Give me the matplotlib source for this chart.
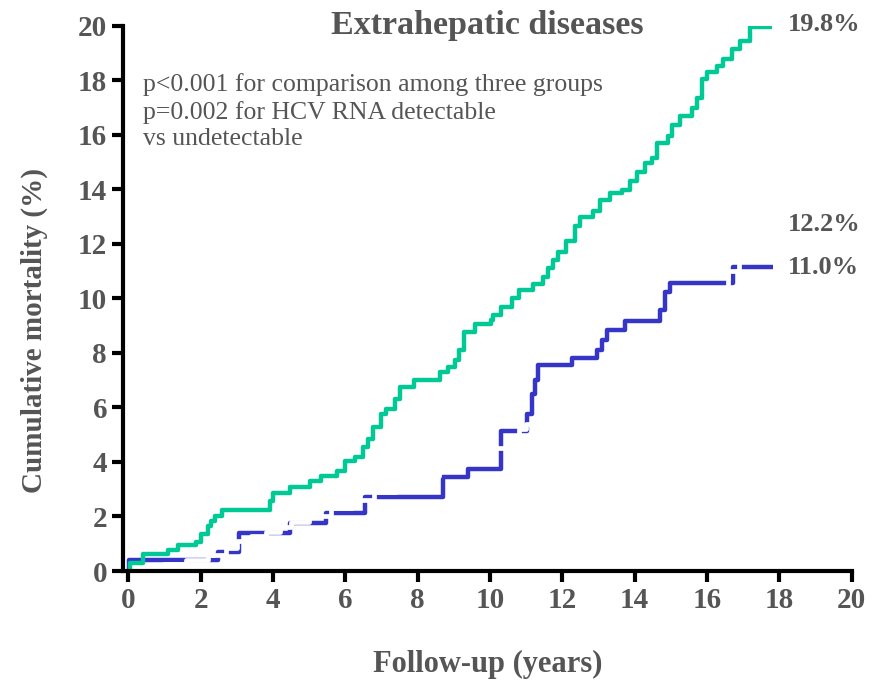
import matplotlib.pyplot as plt
import numpy as np

# HCV RNA undetectable / detectable / (third group drawn in white)
green_t = [0, 0.05, 0.41, 1.1, 1.38, 1.87, 2.02, 2.21, 2.30, 2.41, 2.6, 3.93, 4.0, 4.47, 5.02, 5.34,
           5.76, 5.99, 6.27, 6.5, 6.63, 6.77, 7.0, 7.14, 7.37, 7.51, 7.9, 8.62, 8.7, 8.85, 9.03, 9.14,
           9.28, 9.6, 10.03, 10.09, 10.32, 10.6, 10.81, 11.2, 11.47, 11.61, 11.75, 11.89, 12.1, 12.36,
           12.49, 12.86, 13.04, 13.32, 13.64, 13.87, 14.06, 14.29, 14.47, 14.61, 14.93, 15.03, 15.26,
           15.58, 15.72, 15.86, 16.0, 16.27, 16.45, 16.69, 16.92, 17.2, 17.8]
green_y = [0, 0.3, 0.61, 0.77, 0.95, 1.08, 1.35, 1.66, 1.82, 2.02, 2.23, 2.58, 2.86, 3.1, 3.31, 3.5,
           3.68, 4.05, 4.17, 4.54, 4.85, 5.28, 5.77, 5.95, 6.32, 6.75, 7.0, 7.3, 7.3, 7.49, 7.73, 8.1,
           8.77, 9.08, 9.2, 9.39, 9.7, 10.0, 10.31, 10.52, 10.8, 11.1, 11.41, 11.72, 12.1, 12.64,
           13.0, 13.2, 13.62, 13.87, 13.99, 14.3, 14.64, 14.97, 15.16, 15.71, 15.95, 16.38, 16.69,
           17.0, 17.37, 18.04, 18.29, 18.53, 18.78, 19.15, 19.45, 19.95, 19.95]

blue_t = [0, 0.02, 2.48, 3.06, 4.47, 5.48, 6.54, 8.71, 9.4, 10.3, 11.02, 11.17, 11.25, 11.34,
          12.26, 12.95, 13.09, 13.23, 13.73, 14.7, 14.84, 14.98, 16.73, 17.84]
blue_y = [0, 0.42, 0.71, 1.41, 1.75, 2.11, 2.7, 3.44, 3.74, 5.15, 5.77, 6.5, 7.0, 7.55,
          7.83, 8.1, 8.47, 8.84, 9.18, 9.57, 10.25, 10.58, 11.14, 11.14]

white_t = [0, 0.5, 1.0, 1.6, 2.2, 2.7, 3.0, 3.4, 3.8, 4.2, 4.5, 5.0, 5.6, 6.2, 6.8, 7.4, 8.0, 8.6,
           9.2, 9.8, 10.46, 10.8, 11.0, 11.5, 12.0, 12.5, 13.0, 13.5, 14.0, 14.5, 15.0, 15.5, 16.0,
           16.58, 16.9, 17.2, 17.5, 17.8]
white_y = [0, 0.1, 0.25, 0.4, 0.6, 0.85, 1.1, 1.3, 1.43, 1.6, 1.78, 2.0, 2.3, 2.6, 2.9, 3.2, 3.5,
           3.8, 4.1, 4.5, 4.9, 5.2, 5.4, 5.9, 6.4, 6.9, 7.4, 7.9, 8.4, 8.9, 9.4, 9.9, 10.4, 11.0,
           11.4, 11.8, 12.2, 12.2]

end_labels = ["19.8%", "12.2%", "11.0%"]
end_label_y = [20.05, 12.7, 11.15]

grey = "#555555"
plt.rcParams['font.family'] = ['Liberation Serif', 'DejaVu Serif']

fig = plt.figure(figsize=(8.75, 6.84), dpi=100)
ax = fig.add_axes([0.1406, 0.1652, 0.8326, 0.797])

ax.step(blue_t, blue_y, where="post", color="#3535c8", lw=3.2, solid_capstyle="butt")
ax.step(white_t, white_y, where="post", color="white", lw=3.4)
ax.step(green_t, green_y, where="post", color="#00c995", lw=3.2, solid_capstyle="butt")

ax.set_xlim(-0.145, 20)
ax.set_ylim(0, 20)
ax.set_xticks(np.arange(0, 21, 2))
ax.set_yticks(np.arange(0, 21, 2))
for s in ["top", "right"]:
    ax.spines[s].set_visible(False)
for s in ["left", "bottom"]:
    ax.spines[s].set_linewidth(3)
ax.tick_params(width=3, length=8, labelsize=21, labelcolor=grey)
for lab in ax.get_xticklabels() + ax.get_yticklabels():
    lab.set_fontweight("bold")

ax.set_xlabel("Follow-up (years)", fontsize=22, fontweight="bold", color=grey, labelpad=26)
ax.set_ylabel("Cumulative mortality (%)", fontsize=21, fontweight="bold", color=grey)
ax.yaxis.set_label_coords(-0.103, 0.442)
ax.set_title("Extrahepatic diseases", fontsize=24.5, fontweight="bold", color=grey, x=0.5, y=0.97)

ax.text(0.4, 16.85, "p<0.001 for comparison among three groups\np=0.002 for HCV RNA detectable\nvs undetectable",
        fontsize=18.5, color=grey, va="center", ha="left", linespacing=1.25)

for lab, yy in zip(end_labels, end_label_y):
    ax.text(18.25, yy, lab, fontsize=19, fontweight="bold", color=grey, va="center", ha="left",
            clip_on=False)

fig.savefig("out.png", dpi=100)
